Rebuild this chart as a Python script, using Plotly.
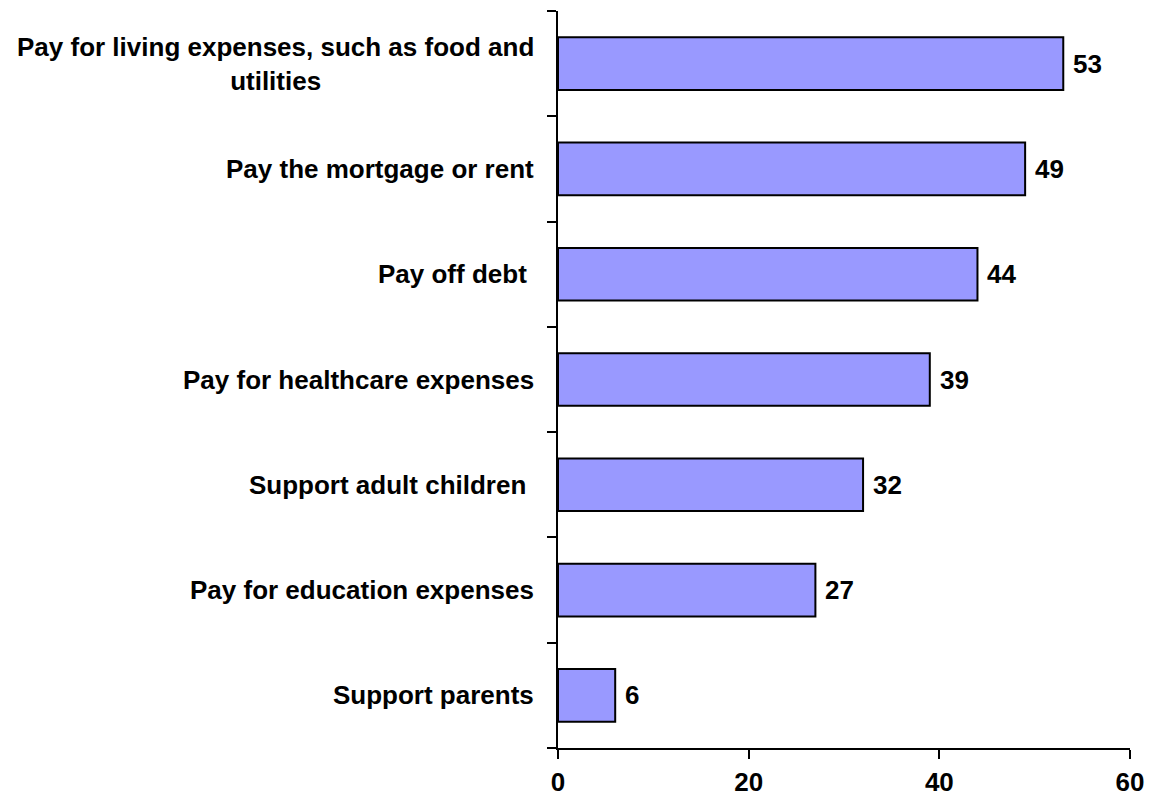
import plotly.graph_objects as go

categories = [
    "Pay for living expenses, such as food and<br>utilities",
    "Pay the mortgage or rent",
    "Pay off debt\u00a0",
    "Pay for healthcare expenses",
    "Support adult children\u00a0",
    "Pay for education expenses",
    "Support parents",
]
values = [53, 49, 44, 39, 32, 27, 6]
x_ticks = [0, 20, 40, 60]

FONT = "Liberation Sans, Arial, sans-serif"
FS = 26
cats_rev = categories[::-1]
vals_rev = values[::-1]

fig = go.Figure()
fig.add_trace(go.Bar(
    x=vals_rev,
    y=cats_rev,
    orientation="h",
    marker=dict(color="#9999FF", line=dict(color="#000000", width=2)),
    width=0.5,
    hoverinfo="skip",
))

annotations = []
for c, v in zip(cats_rev, vals_rev):
    annotations.append(dict(
        x=0, y=c, xref="x", yref="y", text=f"<b>{c}</b>", showarrow=False,
        xanchor="right", yanchor="middle", align="center", xshift=-22,
        font=dict(family=FONT, size=FS, color="#000000"),
    ))
    annotations.append(dict(
        x=v, y=c, xref="x", yref="y", text=f"<b>{v}</b>", showarrow=False,
        xanchor="left", yanchor="middle", xshift=8,
        font=dict(family=FONT, size=FS, color="#000000"),
    ))

fig.update_layout(
    width=1149, height=802,
    margin=dict(l=558, r=19, t=11, b=54),
    paper_bgcolor="white", plot_bgcolor="white",
    showlegend=False,
    annotations=annotations,
    font=dict(family=FONT, size=FS, color="#000000"),
    xaxis=dict(
        range=[0, 60], tickvals=x_ticks,
        ticktext=[f"<b>{t}</b>" for t in x_ticks],
        showgrid=False, zeroline=False, automargin=False,
        showline=True, linecolor="#000000", linewidth=2,
        ticks="outside", ticklen=9, tickwidth=2, tickcolor="#000000",
        ticklabelstandoff=1,
        tickfont=dict(family=FONT, size=FS, color="#000000"),
        fixedrange=True,
    ),
    yaxis=dict(
        type="category", categoryorder="array", categoryarray=cats_rev,
        range=[-0.5, 6.5], automargin=False,
        showticklabels=False, tickson="boundaries",
        showgrid=False, zeroline=False,
        showline=True, linecolor="#000000", linewidth=2,
        ticks="outside", ticklen=9, tickwidth=2, tickcolor="#000000",
        fixedrange=True,
    ),
)

fig.write_html("out.html")
